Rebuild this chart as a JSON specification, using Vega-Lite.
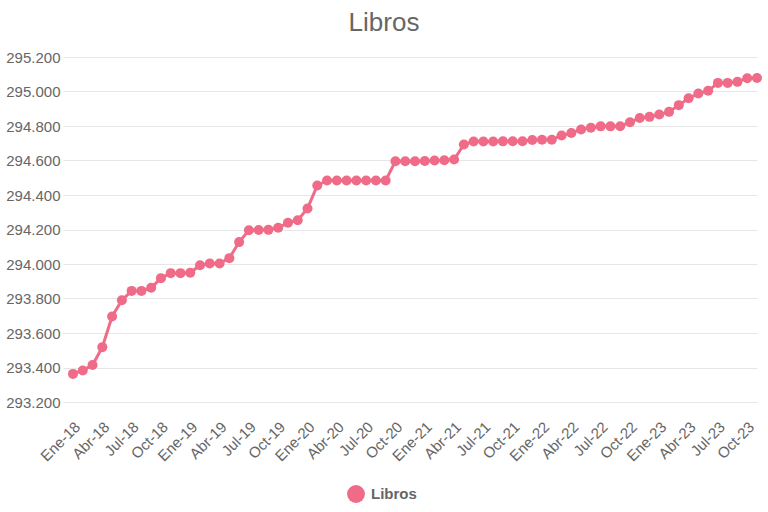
{
  "$schema": "https://vega.github.io/schema/vega-lite/v6.json",
  "width": 684,
  "height": 345,
  "autosize": {"type": "none"},
  "padding": {"left": 73, "top": 57, "right": 11, "bottom": 110},
  "background": "white",
  "title": {"text": "Libros", "fontSize": 26, "font": "Liberation Sans", "fontWeight": "normal", "color": "#666666", "anchor": "middle", "dx": -31, "offset": 14},
  "data": {"values": [
    {"mes": "Ene-18", "valor": 293.363, "serie": "Libros"},
    {"mes": "Feb-18", "valor": 293.383, "serie": "Libros"},
    {"mes": "Mar-18", "valor": 293.414, "serie": "Libros"},
    {"mes": "Abr-18", "valor": 293.518, "serie": "Libros"},
    {"mes": "May-18", "valor": 293.696, "serie": "Libros"},
    {"mes": "Jun-18", "valor": 293.790, "serie": "Libros"},
    {"mes": "Jul-18", "valor": 293.844, "serie": "Libros"},
    {"mes": "Ago-18", "valor": 293.844, "serie": "Libros"},
    {"mes": "Sep-18", "valor": 293.862, "serie": "Libros"},
    {"mes": "Oct-18", "valor": 293.918, "serie": "Libros"},
    {"mes": "Nov-18", "valor": 293.947, "serie": "Libros"},
    {"mes": "Dic-18", "valor": 293.947, "serie": "Libros"},
    {"mes": "Ene-19", "valor": 293.949, "serie": "Libros"},
    {"mes": "Feb-19", "valor": 293.993, "serie": "Libros"},
    {"mes": "Mar-19", "valor": 294.003, "serie": "Libros"},
    {"mes": "Abr-19", "valor": 294.003, "serie": "Libros"},
    {"mes": "May-19", "valor": 294.034, "serie": "Libros"},
    {"mes": "Jun-19", "valor": 294.127, "serie": "Libros"},
    {"mes": "Jul-19", "valor": 294.196, "serie": "Libros"},
    {"mes": "Ago-19", "valor": 294.197, "serie": "Libros"},
    {"mes": "Sep-19", "valor": 294.198, "serie": "Libros"},
    {"mes": "Oct-19", "valor": 294.210, "serie": "Libros"},
    {"mes": "Nov-19", "valor": 294.239, "serie": "Libros"},
    {"mes": "Dic-19", "valor": 294.254, "serie": "Libros"},
    {"mes": "Ene-20", "valor": 294.322, "serie": "Libros"},
    {"mes": "Feb-20", "valor": 294.455, "serie": "Libros"},
    {"mes": "Mar-20", "valor": 294.484, "serie": "Libros"},
    {"mes": "Abr-20", "valor": 294.484, "serie": "Libros"},
    {"mes": "May-20", "valor": 294.484, "serie": "Libros"},
    {"mes": "Jun-20", "valor": 294.484, "serie": "Libros"},
    {"mes": "Jul-20", "valor": 294.484, "serie": "Libros"},
    {"mes": "Ago-20", "valor": 294.484, "serie": "Libros"},
    {"mes": "Sep-20", "valor": 294.484, "serie": "Libros"},
    {"mes": "Oct-20", "valor": 294.596, "serie": "Libros"},
    {"mes": "Nov-20", "valor": 294.596, "serie": "Libros"},
    {"mes": "Dic-20", "valor": 294.596, "serie": "Libros"},
    {"mes": "Ene-21", "valor": 294.597, "serie": "Libros"},
    {"mes": "Feb-21", "valor": 294.600, "serie": "Libros"},
    {"mes": "Mar-21", "valor": 294.601, "serie": "Libros"},
    {"mes": "Abr-21", "valor": 294.606, "serie": "Libros"},
    {"mes": "May-21", "valor": 294.693, "serie": "Libros"},
    {"mes": "Jun-21", "valor": 294.710, "serie": "Libros"},
    {"mes": "Jul-21", "valor": 294.710, "serie": "Libros"},
    {"mes": "Ago-21", "valor": 294.710, "serie": "Libros"},
    {"mes": "Sep-21", "valor": 294.711, "serie": "Libros"},
    {"mes": "Oct-21", "valor": 294.712, "serie": "Libros"},
    {"mes": "Nov-21", "valor": 294.712, "serie": "Libros"},
    {"mes": "Dic-21", "valor": 294.719, "serie": "Libros"},
    {"mes": "Ene-22", "valor": 294.720, "serie": "Libros"},
    {"mes": "Feb-22", "valor": 294.720, "serie": "Libros"},
    {"mes": "Mar-22", "valor": 294.745, "serie": "Libros"},
    {"mes": "Abr-22", "valor": 294.759, "serie": "Libros"},
    {"mes": "May-22", "valor": 294.780, "serie": "Libros"},
    {"mes": "Jun-22", "valor": 294.790, "serie": "Libros"},
    {"mes": "Jul-22", "valor": 294.798, "serie": "Libros"},
    {"mes": "Ago-22", "valor": 294.798, "serie": "Libros"},
    {"mes": "Sep-22", "valor": 294.799, "serie": "Libros"},
    {"mes": "Oct-22", "valor": 294.822, "serie": "Libros"},
    {"mes": "Nov-22", "valor": 294.846, "serie": "Libros"},
    {"mes": "Dic-22", "valor": 294.853, "serie": "Libros"},
    {"mes": "Ene-23", "valor": 294.867, "serie": "Libros"},
    {"mes": "Feb-23", "valor": 294.882, "serie": "Libros"},
    {"mes": "Mar-23", "valor": 294.921, "serie": "Libros"},
    {"mes": "Abr-23", "valor": 294.961, "serie": "Libros"},
    {"mes": "May-23", "valor": 294.988, "serie": "Libros"},
    {"mes": "Jun-23", "valor": 295.004, "serie": "Libros"},
    {"mes": "Jul-23", "valor": 295.050, "serie": "Libros"},
    {"mes": "Ago-23", "valor": 295.050, "serie": "Libros"},
    {"mes": "Sep-23", "valor": 295.056, "serie": "Libros"},
    {"mes": "Oct-23", "valor": 295.077, "serie": "Libros"},
    {"mes": "Nov-23", "valor": 295.078, "serie": "Libros"}
  ]},
  "encoding": {
    "x": {
      "field": "mes", "type": "ordinal", "sort": null,
      "scale": {"type": "point", "padding": 0},
      "axis": {
        "title": null, "grid": false, "ticks": false, "domain": false,
        "labelAngle": -45, "labelAlign": "right", "labelBaseline": "middle",
        "labelFont": "Liberation Sans", "labelFontSize": 15, "labelColor": "#666666",
        "labelPadding": 22, "labelOffset": 4, "labelOverlap": false, "labelBound": false,
        "values": ["Ene-18","Abr-18","Jul-18","Oct-18","Ene-19","Abr-19","Jul-19","Oct-19","Ene-20","Abr-20","Jul-20","Oct-20","Ene-21","Abr-21","Jul-21","Oct-21","Ene-22","Abr-22","Jul-22","Oct-22","Ene-23","Abr-23","Jul-23","Oct-23"]
      }
    },
    "y": {
      "field": "valor", "type": "quantitative",
      "scale": {"domain": [293.2, 295.2], "nice": false, "zero": false},
      "axis": {
        "title": null, "format": ".3f", "values": [293.2,293.4,293.6,293.8,294.0,294.2,294.4,294.6,294.8,295.0,295.2],
        "labelOverlap": false, "labelBound": false, "labelFlush": false,
        "domain": false, "ticks": true, "tickSize": 10, "tickColor": "#e6e6e6",
        "grid": true, "gridColor": "#e6e6e6", "gridWidth": 1,
        "labelFont": "Liberation Sans", "labelFontSize": 15, "labelColor": "#666666",
        "labelPadding": 3
      }
    },
    "color": {
      "field": "serie", "type": "nominal",
      "scale": {"range": ["#ef6b87"]},
      "legend": {
        "title": null, "orient": "none", "legendX": 274, "legendY": 428,
        "symbolType": "circle", "symbolSize": 320, "symbolFillColor": "#ef6b87", "symbolStrokeWidth": 0,
        "labelFont": "Liberation Sans", "labelFontSize": 15, "labelFontWeight": "bold", "labelColor": "#666666",
        "labelOffset": 6, "padding": 0
      }
    }
  },
  "layer": [
    {"mark": {"type": "line", "strokeWidth": 3}},
    {"mark": {"type": "point", "filled": true, "size": 100, "opacity": 1}}
  ],
  "config": {"view": {"stroke": null}}
}
